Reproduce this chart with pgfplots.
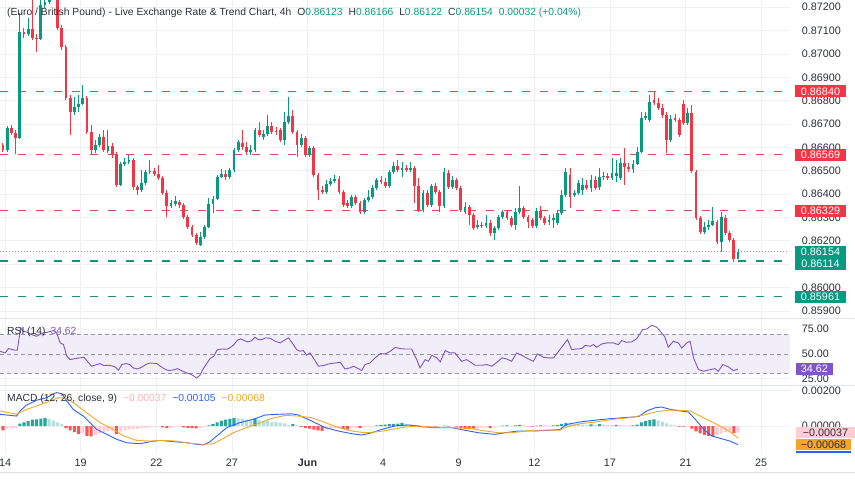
\documentclass[border=0pt]{standalone}
\usepackage{pgfplots}
\pgfplotsset{compat=1.18}
\usepackage{pgfplotstable}
\usepackage{fontspec}
\setmainfont{Liberation Sans}
\definecolor{up}{HTML}{089981}
\definecolor{dn}{HTML}{F23645}
\definecolor{gridc}{HTML}{EEF0F4}
\definecolor{labc}{HTML}{2A2E39}
\definecolor{rsic}{HTML}{7E57C2}
\definecolor{macdc}{HTML}{2962FF}
\definecolor{sigc}{HTML}{F5A623}
\definecolor{hdg}{HTML}{26A69A}
\definecolor{hlt}{HTML}{B2DFDB}
\definecolor{hdr}{HTML}{FF5252}
\definecolor{hpk}{HTML}{FFCDD2}
\definecolor{sepc}{HTML}{E0E3EB}
\definecolor{bandc}{HTML}{F1EDF9}
\definecolor{midc}{HTML}{9598A1}
\definecolor{lvr}{HTML}{DC4A56}
\definecolor{lvg}{HTML}{16927C}
\newcommand\lab{\fontsize{10.8}{13}\selectfont}
\newcommand\ttl{\fontsize{10.3}{12}\selectfont}

\pgfplotstableread{
k o h l c
1 0.86589 0.86692 0.86580 0.86683
4 0.86640 0.87175 0.86636 0.87094
6 0.87085 0.87154 0.87077 0.87107
9 0.87064 0.87231 0.87060 0.87210
10 0.87210 0.87252 0.87197 0.87222
11 0.87222 0.87317 0.87214 0.87274
17 0.86752 0.86816 0.86739 0.86773
18 0.86773 0.86824 0.86752 0.86786
19 0.86786 0.86867 0.86782 0.86812
22 0.86589 0.86632 0.86576 0.86610
23 0.86610 0.86657 0.86602 0.86645
25 0.86585 0.86675 0.86576 0.86606
28 0.86439 0.86538 0.86435 0.86529
29 0.86529 0.86555 0.86521 0.86538
30 0.86538 0.86568 0.86529 0.86546
33 0.86418 0.86503 0.86409 0.86448
34 0.86448 0.86503 0.86439 0.86495
35 0.86495 0.86546 0.86486 0.86499
40 0.86349 0.86375 0.86341 0.86362
41 0.86358 0.86392 0.86349 0.86371
47 0.86182 0.86238 0.86178 0.86217
48 0.86217 0.86268 0.86208 0.86259
49 0.86259 0.86384 0.86255 0.86358
50 0.86358 0.86392 0.86319 0.86379
51 0.86379 0.86482 0.86375 0.86473
52 0.86473 0.86508 0.86469 0.86486
54 0.86473 0.86512 0.86465 0.86503
55 0.86503 0.86597 0.86495 0.86589
56 0.86589 0.86632 0.86580 0.86623
59 0.86580 0.86610 0.86568 0.86589
60 0.86589 0.86683 0.86580 0.86675
62 0.86645 0.86675 0.86632 0.86657
63 0.86657 0.86739 0.86649 0.86692
67 0.86632 0.86752 0.86610 0.86709
68 0.86709 0.86816 0.86700 0.86735
71 0.86610 0.86657 0.86602 0.86640
73 0.86568 0.86606 0.86559 0.86597
77 0.86409 0.86461 0.86401 0.86443
78 0.86443 0.86469 0.86435 0.86456
79 0.86456 0.86482 0.86448 0.86465
83 0.86349 0.86396 0.86341 0.86388
86 0.86324 0.86384 0.86315 0.86375
87 0.86375 0.86418 0.86366 0.86388
88 0.86388 0.86439 0.86379 0.86426
89 0.86426 0.86469 0.86418 0.86461
92 0.86435 0.86503 0.86426 0.86495
93 0.86495 0.86538 0.86486 0.86521
95 0.86503 0.86538 0.86473 0.86512
97 0.86503 0.86538 0.86495 0.86512
100 0.86332 0.86418 0.86324 0.86405
102 0.86354 0.86443 0.86345 0.86435
105 0.86349 0.86512 0.86341 0.86495
107 0.86431 0.86478 0.86422 0.86461
110 0.86324 0.86366 0.86315 0.86345
113 0.86259 0.86289 0.86251 0.86268
115 0.86264 0.86311 0.86255 0.86277
117 0.86234 0.86264 0.86204 0.86255
118 0.86255 0.86311 0.86247 0.86302
119 0.86302 0.86332 0.86294 0.86324
122 0.86268 0.86341 0.86247 0.86324
123 0.86324 0.86435 0.86315 0.86341
127 0.86264 0.86341 0.86255 0.86328
130 0.86281 0.86311 0.86268 0.86289
131 0.86289 0.86315 0.86255 0.86298
132 0.86277 0.86332 0.86268 0.86319
133 0.86319 0.86418 0.86311 0.86396
134 0.86396 0.86512 0.86388 0.86495
136 0.86396 0.86418 0.86388 0.86405
137 0.86405 0.86461 0.86396 0.86448
138 0.86418 0.86469 0.86396 0.86439
140 0.86426 0.86482 0.86409 0.86461
142 0.86431 0.86512 0.86418 0.86473
143 0.86473 0.86495 0.86461 0.86478
145 0.86469 0.86555 0.86461 0.86491
146 0.86478 0.86546 0.86452 0.86491
147 0.86469 0.86555 0.86461 0.86533
150 0.86508 0.86546 0.86491 0.86529
151 0.86529 0.86602 0.86525 0.86580
152 0.86580 0.86752 0.86576 0.86726
153 0.86726 0.86752 0.86717 0.86735
154 0.86717 0.86824 0.86709 0.86794
159 0.86632 0.86739 0.86623 0.86722
163 0.86705 0.86769 0.86696 0.86747
167 0.86238 0.86281 0.86229 0.86259
168 0.86259 0.86289 0.86247 0.86268
169 0.86268 0.86345 0.86264 0.86285
171 0.86195 0.86324 0.86152 0.86302
175 0.86123 0.86166 0.86122 0.86154
}\uptab

\pgfplotstableread{
k o h l c
0 0.86610 0.86619 0.86580 0.86589
2 0.86683 0.86696 0.86653 0.86662
3 0.86662 0.86675 0.86572 0.86640
5 0.87094 0.87111 0.87068 0.87085
7 0.87107 0.87252 0.87060 0.87068
8 0.87068 0.87085 0.87008 0.87064
12 0.87274 0.87338 0.87231 0.87252
13 0.87252 0.87274 0.87103 0.87111
14 0.87111 0.87124 0.87017 0.87030
15 0.87030 0.87038 0.86803 0.86812
16 0.86812 0.86824 0.86653 0.86752
20 0.86812 0.86820 0.86657 0.86666
21 0.86666 0.86696 0.86568 0.86589
24 0.86645 0.86675 0.86580 0.86589
26 0.86606 0.86619 0.86555 0.86572
27 0.86572 0.86580 0.86431 0.86439
31 0.86546 0.86555 0.86418 0.86431
32 0.86431 0.86439 0.86396 0.86418
36 0.86499 0.86512 0.86478 0.86486
37 0.86486 0.86525 0.86461 0.86469
38 0.86469 0.86478 0.86396 0.86405
39 0.86405 0.86418 0.86302 0.86349
42 0.86366 0.86375 0.86341 0.86354
43 0.86354 0.86362 0.86294 0.86302
44 0.86302 0.86311 0.86251 0.86259
45 0.86259 0.86268 0.86217 0.86225
46 0.86225 0.86234 0.86182 0.86191
53 0.86486 0.86503 0.86461 0.86473
57 0.86619 0.86675 0.86589 0.86602
58 0.86602 0.86623 0.86568 0.86580
61 0.86675 0.86709 0.86645 0.86653
64 0.86692 0.86709 0.86657 0.86666
65 0.86670 0.86687 0.86653 0.86666
66 0.86675 0.86683 0.86623 0.86632
69 0.86735 0.86760 0.86657 0.86666
70 0.86666 0.86675 0.86559 0.86610
72 0.86640 0.86649 0.86559 0.86568
74 0.86597 0.86606 0.86473 0.86482
75 0.86482 0.86491 0.86375 0.86418
76 0.86418 0.86435 0.86401 0.86409
80 0.86465 0.86478 0.86401 0.86409
81 0.86409 0.86418 0.86345 0.86354
82 0.86362 0.86375 0.86341 0.86349
84 0.86388 0.86396 0.86354 0.86362
85 0.86362 0.86371 0.86315 0.86324
90 0.86461 0.86478 0.86443 0.86452
91 0.86452 0.86469 0.86426 0.86435
94 0.86521 0.86546 0.86495 0.86503
96 0.86512 0.86525 0.86495 0.86503
98 0.86512 0.86521 0.86362 0.86435
99 0.86435 0.86469 0.86324 0.86332
101 0.86405 0.86418 0.86345 0.86354
103 0.86435 0.86448 0.86401 0.86409
104 0.86409 0.86418 0.86324 0.86349
106 0.86491 0.86503 0.86422 0.86431
108 0.86461 0.86469 0.86418 0.86426
109 0.86426 0.86435 0.86324 0.86332
111 0.86345 0.86354 0.86268 0.86311
112 0.86311 0.86319 0.86247 0.86255
114 0.86268 0.86281 0.86255 0.86264
116 0.86277 0.86289 0.86221 0.86234
120 0.86324 0.86332 0.86289 0.86298
121 0.86298 0.86307 0.86259 0.86268
124 0.86341 0.86349 0.86294 0.86302
125 0.86302 0.86311 0.86255 0.86281
126 0.86289 0.86298 0.86255 0.86264
128 0.86328 0.86349 0.86289 0.86298
129 0.86298 0.86307 0.86268 0.86277
135 0.86482 0.86512 0.86341 0.86388
139 0.86439 0.86461 0.86418 0.86426
141 0.86461 0.86478 0.86418 0.86426
144 0.86478 0.86491 0.86461 0.86469
148 0.86533 0.86597 0.86439 0.86516
149 0.86516 0.86533 0.86495 0.86508
155 0.86803 0.86837 0.86782 0.86790
156 0.86790 0.86812 0.86760 0.86769
157 0.86769 0.86786 0.86726 0.86739
158 0.86739 0.86752 0.86576 0.86632
160 0.86726 0.86743 0.86709 0.86717
161 0.86717 0.86726 0.86645 0.86653
162 0.86786 0.86803 0.86696 0.86705
164 0.86747 0.86782 0.86491 0.86499
165 0.86495 0.86503 0.86289 0.86298
166 0.86298 0.86307 0.86229 0.86238
170 0.86281 0.86289 0.86187 0.86195
172 0.86298 0.86311 0.86225 0.86234
173 0.86234 0.86242 0.86195 0.86204
174 0.86204 0.86212 0.86110 0.86123
}\dntab

\pgfplotsset{
  tv/.style={
    scale only axis, width=790pt, anchor=south west,
    xmin=-0.714, xmax=187.38,
    axis line style={draw=none},
    major tick length=0pt, tick style={draw=none},
    xtick={0.5,18.5,36.5,54.5,72.5,90.5,108.5,126.5,144.5,162.5,180.5},
    xticklabels={},
    xmajorgrids, ymajorgrids,
    major grid style={draw=gridc, line width=0.8pt},
    scaled y ticks=false, scaled x ticks=false,
    yticklabel pos=right,
    yticklabel style={anchor=west, xshift=8.4pt, font=\lab, text=labc},
    clip mode=individual,
  },
  nomark/.style={only marks, mark=*, mark size=0pt, mark options={draw=none, fill=none}, forget plot},
}

\begin{document}
\begin{tikzpicture}

% ---------------- price panel
\begin{axis}[tv, at={(0pt,162pt)}, height=318pt, ymin=0.8587, ymax=0.87231,
  ytick={0.859,0.86,0.861,0.862,0.863,0.864,0.865,0.866,0.867,0.868,0.869,0.87,0.871,0.872},
  yticklabels={0.85900,0.86000,0.86100,0.86200,0.86300,0.86400,0.86500,0.86600,0.86700,0.86800,0.86900,0.87000,0.87100,0.87200}]
\addplot[lvr, line width=1.3pt, dash pattern=on 8pt off 10pt, forget plot] coordinates {(-0.714,0.8684) (186.7,0.8684)};
\addplot[lvr, line width=1.3pt, dash pattern=on 8pt off 10pt, forget plot] coordinates {(-0.714,0.86569) (186.7,0.86569)};
\addplot[lvr, line width=1.3pt, dash pattern=on 8pt off 10pt, forget plot] coordinates {(-0.714,0.86329) (186.7,0.86329)};
\addplot[lvg, line width=1.3pt, dash pattern=on 8pt off 10pt, forget plot] coordinates {(-0.714,0.86114) (186.7,0.86114)};
\addplot[lvg, line width=1.3pt, dash pattern=on 8pt off 10pt, forget plot] coordinates {(-0.714,0.85961) (186.7,0.85961)};
\addplot[midc, line width=0.8pt, dash pattern=on 1pt off 2pt, forget plot] coordinates {(-0.714,0.86154) (186.7,0.86154)};
% wicks and bodies
\addplot[nomark, color=up, error bars/.cd, y dir=minus, y explicit, error mark=none, error bar style={line width=1pt, draw=up}]
  table[x=k, y=h, y error minus expr=\thisrow{h}-\thisrow{l}] {\uptab};
\addplot[nomark, color=up, error bars/.cd, y dir=minus, y explicit, error mark=none, error bar style={line width=2.8pt, draw=up}]
  table[x=k, y=c, y error minus expr=\thisrow{c}-\thisrow{o}] {\uptab};
\addplot[nomark, color=dn, error bars/.cd, y dir=minus, y explicit, error mark=none, error bar style={line width=1pt, draw=dn}]
  table[x=k, y=h, y error minus expr=\thisrow{h}-\thisrow{l}] {\dntab};
\addplot[nomark, color=dn, error bars/.cd, y dir=minus, y explicit, error mark=none, error bar style={line width=2.8pt, draw=dn}]
  table[x=k, y=o, y error minus expr=\thisrow{o}-\thisrow{c}] {\dntab};
\coordinate (r1) at (axis cs:194.64,0.8684);
\coordinate (r2) at (axis cs:194.64,0.86569);
\coordinate (r3) at (axis cs:194.64,0.86329);
\coordinate (g1a) at (axis cs:188.57,0.86178);
\coordinate (g1b) at (axis cs:200.71,0.86075);
\coordinate (g1t) at (axis cs:194.64,0.86152);
\coordinate (g2t) at (axis cs:194.64,0.86100);
\coordinate (g3) at (axis cs:194.64,0.8596);
\end{axis}

% ---------------- RSI panel
\begin{axis}[tv, at={(0pt,95pt)}, height=67pt, ymin=18.7, ymax=86.2,
  ytick={25,50,75}, yticklabels={25.00,50.00,75.00}]
\addplot[fill=bandc, draw=none, forget plot] coordinates {(-0.714,30)(187.38,30)(187.38,70)(-0.714,70)(-0.714,30)};
\addplot[midc, line width=0.8pt, dash pattern=on 4pt off 3pt, forget plot] coordinates {(-0.714,70)(187.38,70)};
\addplot[midc, line width=0.8pt, dash pattern=on 4pt off 3pt, forget plot] coordinates {(-0.714,50)(187.38,50)};
\addplot[midc, line width=0.8pt, dash pattern=on 4pt off 3pt, forget plot] coordinates {(-0.714,30)(187.38,30)};
\addplot[rsic, line width=0.9pt] coordinates {
(-0.7,52.7)(0.5,51.0)(1.3,55.4)(2.9,53.7)(3.4,53.7)(4.2,76.2)(4.8,72.8)(5.6,72.1)(6.8,69.5)(8.0,67.8)(9.0,70.1)(9.8,71.5)(10.6,71.8)(11.3,72.8)(12.1,73.5)(12.8,71.1)(13.6,61.1)(14.4,59.4)(15.2,47.7)(16.0,44.3)(17.1,45.3)(18.3,46.0)(19.3,46.6)(20.1,42.6)(21.1,37.6)(22.3,39.3)(23.1,40.3)(24.0,38.3)(25.1,38.6)(26.0,37.9)(26.8,36.6)(27.5,33.6)(28.3,39.3)(29.3,40.3)(30.2,39.3)(31.0,35.9)(32.0,34.9)(33.0,36.6)(34.0,39.3)(35.0,40.9)(36.6,40.3)(37.5,37.6)(38.3,35.2)(39.4,33.2)(40.6,33.9)(41.5,35.2)(42.5,33.2)(43.7,30.9)(44.9,29.2)(46.1,25.8)(46.9,28.5)(47.7,35.2)(48.5,40.3)(49.3,45.3)(50.2,47.7)(51.0,54.0)(52.1,55.0)(53.3,54.7)(54.2,56.7)(55.0,59.4)(55.8,63.8)(56.6,65.1)(57.4,63.4)(58.4,62.1)(59.2,63.4)(60.0,66.8)(60.8,64.4)(61.6,64.4)(62.5,66.1)(63.6,65.8)(64.8,62.8)(66.0,61.1)(66.8,63.4)(68.0,66.1)(68.7,62.1)(69.9,54.4)(70.7,52.7)(71.5,53.4)(72.3,48.7)(73.1,51.0)(73.9,46.0)(75.1,37.6)(76.3,38.3)(77.5,39.9)(79.1,40.9)(80.3,41.6)(81.4,34.9)(82.6,35.9)(83.4,37.6)(84.6,35.2)(85.4,33.2)(86.2,39.3)(87.4,40.9)(88.6,46.0)(89.8,50.3)(91.0,50.0)(92.2,52.7)(93.4,56.7)(94.5,55.4)(95.7,55.0)(97.3,55.0)(98.5,44.3)(99.3,35.9)(100.5,44.3)(101.3,42.6)(102.1,48.7)(103.3,46.0)(104.1,42.0)(105.3,53.4)(106.4,51.0)(107.6,51.0)(109.2,42.6)(110.4,44.3)(112.4,38.6)(114.0,38.6)(115.2,39.3)(116.4,37.6)(117.6,41.6)(118.8,46.0)(119.9,44.9)(121.1,42.6)(122.3,51.0)(123.5,48.7)(125.1,44.9)(126.3,42.6)(127.2,50.0)(128.7,46.6)(129.9,46.0)(131.1,46.0)(132.6,54.4)(134.4,64.4)(135.4,54.4)(136.6,55.0)(137.8,55.4)(138.6,58.7)(139.8,57.7)(140.6,59.4)(141.4,56.7)(142.6,60.1)(143.8,61.1)(145.3,61.1)(146.5,59.4)(147.3,63.4)(148.5,61.7)(149.7,62.1)(150.9,65.4)(152.3,74.5)(153.3,75.2)(154.5,78.9)(155.7,76.8)(156.8,71.1)(157.5,67.8)(158.4,56.7)(159.6,62.8)(160.8,61.1)(161.6,56.0)(162.8,61.1)(163.6,62.8)(164.4,46.0)(165.6,34.2)(166.8,32.6)(168.4,34.2)(169.5,35.2)(170.3,32.6)(171.4,39.3)(172.7,37.0)(173.9,33.2)(175.0,34.62)};
\coordinate (rsib) at (axis cs:193.2,34.62);
\end{axis}

% ---------------- MACD panel
\begin{axis}[tv, at={(0pt,27pt)}, height=68pt, ymin=-0.00152, ymax=0.00231,
  ytick={0,0.002}, yticklabels={0.00000,0.00200},
  xticklabels={14,19,22,27,\textbf{Jun},4,9,12,17,21,25},
  xticklabel style={font=\lab, text=labc, yshift=-2.5pt}]
\addplot[ybar, bar width=0.72, bar shift=0pt, fill=hdg, draw=none, forget plot] coordinates {
(4,0.00013)(5,0.0002)(6,0.00028)(7,0.00036)(8,0.00038)(9,0.00042)(10,0.00045)(49,0.00004)(50,0.0001)(51,0.0002)(52,0.0003)(53,0.00036)(54,0.0004)(55,0.00045)(60,0.00042)(69,0.0001)(89,0.00003)(90,0.00006)(91,0.00008)(92,0.0001)(93,0.00012)(94,0.00014)(95,0.00018)(105,0.00002)(119,0.00002)(120,0.00003)(122,0.00004)(123,0.00006)(127,0.00002)(128,0.00003)(131,0.00003)(132,0.00005)(133,0.00012)(134,0.00018)(140,0.00009)(142,0.0001)(146,0.00006)(150,0.00004)(151,0.00008)(152,0.0002)(153,0.00028)(154,0.00035)(155,0.00038)};
\addplot[ybar, bar width=0.72, bar shift=0pt, fill=hlt, draw=none, forget plot] coordinates {
(11,0.0004)(12,0.0003)(13,0.0002)(14,0.0001)(56,0.00043)(57,0.0004)(58,0.00036)(59,0.0003)(61,0.00035)(62,0.0003)(63,0.00028)(64,0.00022)(65,0.0002)(66,0.00018)(67,0.00015)(68,0.00006)(70,0.00004)(96,0.00012)(97,0.00008)(98,0.00004)(121,0.00002)(124,0.00003)(129,0.00003)(130,0.00002)(135,0.00014)(136,0.00012)(137,0.0001)(138,0.00008)(139,0.00006)(141,0.00007)(143,0.00008)(144,0.00006)(145,0.00005)(147,0.00005)(148,0.00004)(149,0.00003)(156,0.00032)(157,0.00025)(158,0.00015)(159,0.00008)(160,0.00004)};
\addplot[ybar, bar width=0.72, bar shift=0pt, fill=hdr, draw=none, forget plot] coordinates {
(0,-0.00025)(15,-0.00012)(16,-0.00025)(17,-0.00035)(18,-0.00045)(20,-0.00055)(21,-0.00058)(27,-0.00045)(38,-0.00008)(39,-0.00012)(43,-0.00008)(44,-0.0001)(45,-0.00012)(46,-0.00014)(71,-0.00005)(72,-0.0001)(73,-0.00015)(74,-0.0002)(75,-0.00025)(76,-0.00028)(81,-0.00018)(82,-0.0002)(85,-0.00011)(99,-0.00005)(100,-0.00007)(103,-0.00004)(106,-0.00003)(108,-0.00004)(109,-0.0001)(110,-0.00012)(111,-0.00014)(112,-0.00015)(116,-0.00012)(125,-0.00002)(126,-0.00004)(161,-0.00003)(162,-0.00004)(164,-0.00015)(165,-0.0003)(166,-0.00042)(167,-0.0005)(168,-0.00055)(169,-0.00058)(174,-0.00038)};
\addplot[ybar, bar width=0.72, bar shift=0pt, fill=hpk, draw=none, forget plot] coordinates {
(1,-0.00015)(2,-0.00012)(3,-0.0001)(19,-0.00042)(22,-0.0005)(23,-0.00042)(24,-0.00035)(25,-0.0003)(26,-0.00028)(28,-0.00032)(29,-0.00025)(30,-0.0002)(31,-0.00018)(32,-0.00016)(33,-0.00012)(34,-0.0001)(35,-0.00008)(36,-0.00006)(37,-0.00004)(40,-0.0001)(41,-0.00006)(42,-0.00004)(47,-0.00012)(48,-0.00006)(77,-0.0002)(78,-0.00016)(79,-0.00012)(80,-0.0001)(83,-0.00012)(84,-0.0001)(86,-0.00008)(87,-0.00005)(88,-0.00003)(101,-0.00005)(102,-0.00003)(104,-0.00002)(107,-0.00002)(113,-0.00013)(114,-0.0001)(115,-0.00008)(117,-0.00008)(118,-0.00004)(163,-0.00002)(170,-0.0005)(171,-0.00042)(172,-0.00035)(173,-0.0003)(175,-0.00037)};
\addplot[macdc, line width=0.9pt] coordinates {
(-0.7,0.00066)(3.25,0.00056)(4.05,0.00085)(5.6,0.00118)(8.0,0.00145)(10.4,0.00160)(12.0,0.00182)(12.8,0.00188)(14.0,0.00182)(15.2,0.00141)(16.7,0.00094)(19.1,0.00056)(20.7,0.00019)(22.3,-0.00019)(24.7,-0.00047)(27.1,-0.00075)(29.4,-0.00094)(32.6,-0.00100)(35.0,-0.00088)(37.4,-0.00081)(40.6,-0.00088)(43.7,-0.00094)(46.1,-0.00103)(47.7,-0.00107)(49.3,-0.00088)(50.9,-0.00056)(53.3,-0.00009)(56.4,0.00019)(59.6,0.00038)(62.4,0.00062)(65.5,0.00066)(68.7,0.00069)(70.3,0.00062)(73.5,0.00028)(76.7,-0.00009)(79.8,-0.00028)(83.0,-0.00043)(85.4,-0.00051)(87.8,-0.00038)(90.2,-0.00019)(93.3,0.0)(96.5,0.00006)(98.9,0.0)(102.1,-0.00009)(106.8,-0.00009)(110.0,-0.00024)(113.2,-0.00038)(117.1,-0.00047)(119.5,-0.00038)(122.7,-0.00028)(126.6,-0.00028)(130.3,-0.00024)(132.6,-0.00019)(134.2,0.00009)(137.4,0.00023)(141.4,0.00034)(144.5,0.00041)(147.7,0.00047)(151.3,0.00053)(153.3,0.00085)(155.3,0.00103)(156.8,0.00107)(158.8,0.00094)(161.2,0.00085)(163.2,0.00079)(165.2,0.00028)(166.8,-0.00019)(168.8,-0.00056)(170.7,-0.00069)(173.1,-0.00085)(175,-0.00105)};
\addplot[sigc, line width=0.9pt] coordinates {
(-0.7,0.00085)(3.25,0.00066)(5.6,0.00094)(8.0,0.00113)(11.2,0.00141)(13.2,0.00160)(15.2,0.00156)(17.5,0.00118)(19.9,0.00075)(23.1,0.00019)(26.3,-0.00019)(28.7,-0.00056)(31.8,-0.00081)(35.0,-0.00085)(38.2,-0.00081)(41.3,-0.00085)(44.5,-0.00098)(47.7,-0.00103)(50.1,-0.00100)(52.5,-0.00069)(54.8,-0.00038)(58.0,-0.00009)(61.2,0.00018)(63.6,0.00040)(67.2,0.0006)(70.3,0.00056)(73.5,0.00047)(76.7,0.00019)(79.9,-0.00009)(83.0,-0.00028)(86.2,-0.00038)(89.4,-0.00032)(92.6,-0.00019)(95.7,-0.00006)(98.9,0.0)(102.1,-0.00006)(106.8,-0.00009)(111.6,-0.00015)(114.8,-0.00028)(118.0,-0.00038)(121.1,-0.00038)(126.0,-0.00024)(132.6,-0.00023)(134.2,-0.00006)(137.4,0.00013)(141.4,0.00024)(145.3,0.00038)(149.3,0.00047)(152.5,0.00062)(155.7,0.00081)(158.8,0.0009)(162.0,0.00088)(163.6,0.00085)(166.0,0.00056)(168.4,0.00028)(170.7,0.0)(173.1,-0.00032)(175.0,-0.00068)};
\coordinate (mb1) at (axis cs:195.83,-0.00037);
\coordinate (mb2) at (axis cs:195.36,-0.00104);
\coordinate (mb3a) at (axis cs:188.81,-0.00141);
\coordinate (mb3b) at (axis cs:201.9,-0.00152);
\end{axis}

% ---------------- separators
\draw[sepc, line width=0.8pt] (0pt,162pt) -- (855pt,162pt);
\draw[sepc, line width=0.8pt] (0pt,95pt) -- (855pt,95pt);
\draw[sepc, line width=0.8pt] (0pt,8pt) -- (855pt,8pt);

% ---------------- price scale labels
\tikzset{pl/.style={font=\lab, text=white, minimum width=51pt, minimum height=12pt, inner sep=0pt}}
\node[pl, fill=dn] at (r1) {0.86840};
\node[pl, fill=dn] at (r2) {0.86569};
\node[pl, fill=dn] at (r3) {0.86329};
\fill[up] (g1a) rectangle (g1b);
\node[font=\lab, text=white, inner sep=0pt] at (g1t) {0.86154};
\node[font=\lab, text=white, inner sep=0pt] at (g2t) {0.86114};
\node[pl, fill=up] at (g3) {0.85961};
\node[font=\lab, text=white, fill=rsic, minimum width=37pt, minimum height=12pt, inner sep=0pt] at (rsib) {34.62};
\node[font=\lab, text=labc, fill=hpk, minimum width=59pt, minimum height=11pt, inner sep=0pt] at (mb1) {−0.00037};
\node[font=\lab, text=labc, fill=sigc, minimum width=55pt, minimum height=11pt, inner sep=0pt] at (mb2) {−0.00068};
\fill[macdc] (mb3a) rectangle (mb3b);

% ---------------- titles
\node[anchor=base west, font=\ttl, text=labc, inner sep=0pt] at (7pt,464.6pt)
  {(Euro / British Pound) - Live Exchange Rate \& Trend Chart, 4h\hspace{6pt}O\textcolor{up}{0.86123}\hspace{6pt}H\textcolor{up}{0.86166}\hspace{6pt}L\textcolor{up}{0.86122}\hspace{6pt}C\textcolor{up}{0.86154}\hspace{6pt}\textcolor{up}{0.00032 (+0.04\%)}};
\node[anchor=base west, font=\ttl, text=labc, inner sep=0pt] at (7pt,145.3pt)
  {RSI (14)\hspace{5pt}\textcolor{rsic}{34.62}};
\node[anchor=base west, font=\ttl, text=labc, inner sep=0pt] at (7pt,79pt)
  {MACD (12, 26, close, 9)\hspace{6pt}\textcolor{hpk!80!hdr}{−0.00037}\hspace{6pt}\textcolor{macdc}{−0.00105}\hspace{6pt}\textcolor{sigc}{−0.00068}};

\pgfresetboundingbox
\useasboundingbox (0pt,0pt) rectangle (855pt,480pt);
\end{tikzpicture}
\end{document}
